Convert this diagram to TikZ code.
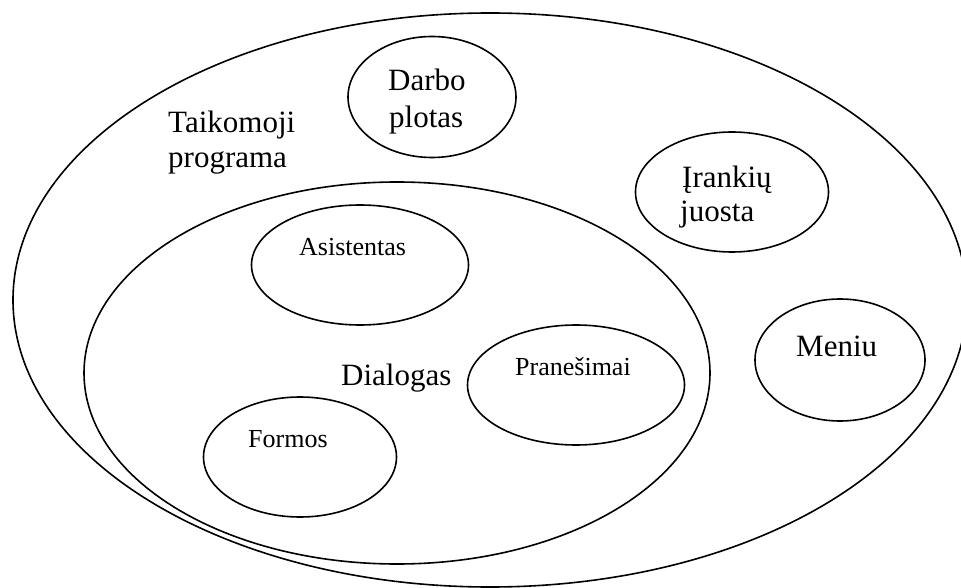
\documentclass[tikz,border=0pt]{standalone}
\usepackage{fontspec}
\setmainfont{Liberation Serif}
\usetikzlibrary{shapes.geometric}

\begin{document}
\begin{tikzpicture}[x=1pt,y=-1pt,
  oval/.style={draw=black,line width=1.6pt,ellipse,inner sep=0pt},
  bigtxt/.style={anchor=base west,inner sep=0pt,font=\fontsize{31}{36}\selectfont},
  smalltxt/.style={anchor=base west,inner sep=0pt,font=\fontsize{26}{30}\selectfont}]
  \useasboundingbox[fill=white] (0,0) rectangle (961,588);

  % application boundary and the dialog region
  \node[oval,minimum width=954,minimum height=574] (app) at (490,300) {};
  \node[oval,minimum width=626,minimum height=382] (dlg) at (397,373) {};

  % components of the application
  \node[oval,minimum width=168,minimum height=121] (darbo) at (432,97) {};
  \node[oval,minimum width=193,minimum height=120] (irank) at (732,192) {};
  \node[oval,minimum width=170,minimum height=122] (meniu) at (840,360) {};

  % components of the dialog
  \node[oval,minimum width=217,minimum height=120] (asist) at (360,265) {};
  \node[oval,minimum width=217,minimum height=120] (prane) at (576,385) {};
  \node[oval,minimum width=193,minimum height=120] (formos) at (300,457) {};

  % labels
  \node[bigtxt] (t1) at (168,133) {Taikomoji};
  \node[bigtxt] (t2) at (168,168) {programa};
  \node[bigtxt] (d1) at (388,91) {Darbo};
  \node[bigtxt] (d2) at (389,128) {plotas};
  \node[bigtxt] (i1) at (682,188) {Įrankių};
  \node[bigtxt] (i2) at (680,222) {juosta};
  \node[bigtxt] (m1) at (796,356) {Meniu};
  \node[bigtxt] (dl) at (341,385) {Dialogas};
  \node[smalltxt] (as) at (299,255) {Asistentas};
  \node[smalltxt] (pr) at (515,375) {Pranešimai};
  \node[smalltxt] (fo) at (248,447) {Formos};
\end{tikzpicture}
\end{document}
